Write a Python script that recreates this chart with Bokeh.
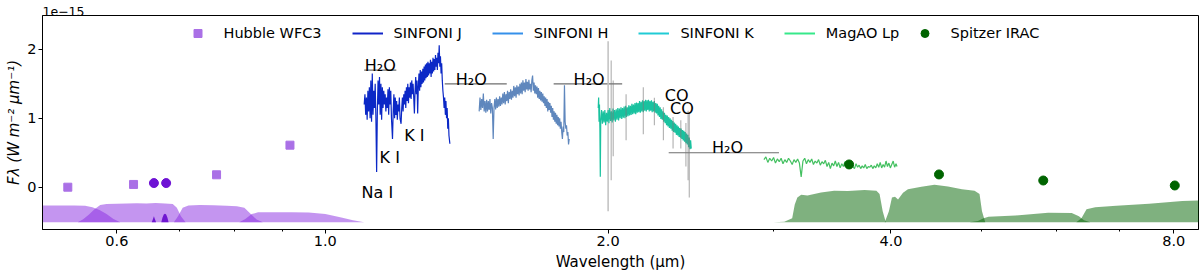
from bokeh.plotting import figure
from bokeh.models import Range1d, FixedTicker, PrintfTickFormatter, Legend, LegendItem
from bokeh.core.properties import value
from bokeh.embed import file_html
from bokeh.resources import INLINE

FONT = "DejaVu Sans"

# ---------------- photometry ----------------
hubble_w = [0.532, 0.625, 0.766, 0.917]
hubble_f = [0.00, 0.04, 0.18, 0.61]
hubble_nb_w = [0.657, 0.677]
hubble_nb_f = [0.06, 0.06]

spitzer_w = [3.61, 4.50, 5.81, 8.02]
spitzer_f = [0.33, 0.185, 0.097, 0.025]

# ---------------- filter curves (scaled, offset) ----------------
f555w_w = [0.440, 0.455, 0.480, 0.500, 0.520, 0.540, 0.555, 0.565, 0.575, 0.585, 0.595, 0.605]
f555w_t = [-0.51, -0.27, -0.265, -0.265, -0.265, -0.265, -0.27, -0.29, -0.33, -0.39, -0.46, -0.51]
f606w_w = [0.545, 0.552, 0.560, 0.568, 0.576, 0.585, 0.600, 0.615, 0.630, 0.645, 0.660, 0.675, 0.688, 0.695, 0.702, 0.710]
f606w_t = [-0.51, -0.47, -0.40, -0.32, -0.26, -0.245, -0.24, -0.235, -0.232, -0.235, -0.23, -0.235, -0.245, -0.30, -0.42, -0.51]
f775w_w = [0.690, 0.697, 0.705, 0.715, 0.735, 0.760, 0.785, 0.805, 0.820, 0.832, 0.845, 0.858]
f775w_t = [-0.51, -0.42, -0.30, -0.265, -0.26, -0.262, -0.268, -0.275, -0.30, -0.38, -0.47, -0.51]
f850lp_w = [0.810, 0.822, 0.835, 0.848, 0.880, 0.920, 0.960, 1.000, 1.040, 1.070, 1.100]
f850lp_t = [-0.51, -0.46, -0.39, -0.365, -0.362, -0.362, -0.368, -0.39, -0.44, -0.48, -0.51]
f656n_w = [0.6535, 0.6555, 0.6570, 0.6585, 0.6605]
f656n_t = [-0.51, -0.46, -0.42, -0.46, -0.51]
f673n_w = [0.669, 0.671, 0.673, 0.675, 0.677, 0.679, 0.681]
f673n_t = [-0.51, -0.44, -0.395, -0.385, -0.395, -0.44, -0.51]

irac1_w = [3.00, 3.08, 3.14, 3.16, 3.18, 3.21, 3.26, 3.37, 3.48, 3.60, 3.75, 3.86, 3.89, 3.92, 3.95]
irac1_t = [-0.51, -0.50, -0.45, -0.25, -0.15, -0.11, -0.12, -0.077, -0.05, -0.055, -0.04, -0.05, -0.10, -0.35, -0.51]
irac2_w = [3.94, 3.98, 4.01, 4.04, 4.07, 4.12, 4.17, 4.31, 4.45, 4.60, 4.76, 4.91, 4.97, 5.00, 5.04]
irac2_t = [-0.51, -0.35, -0.15, -0.14, -0.18, -0.08, -0.03, 0.005, 0.035, 0.01, -0.03, -0.05, -0.10, -0.35, -0.51]
irac3_w = [4.85, 4.95, 5.02, 5.08, 5.43, 5.88, 6.23, 6.34, 6.42, 6.52]
irac3_t = [-0.51, -0.49, -0.45, -0.43, -0.41, -0.37, -0.375, -0.42, -0.48, -0.51]
irac4_w = [6.30, 6.38, 6.46, 6.60, 6.95, 7.53, 8.17, 8.60, 9.00, 9.20]
irac4_t = [-0.51, -0.45, -0.32, -0.29, -0.27, -0.24, -0.20, -0.19, -0.20, -0.51]

# ---------------- spectra ----------------
sinf_j_w = [1.100, 1.102, 1.104, 1.106, 1.108, 1.110, 1.112, 1.114, 1.116, 1.118, 1.120, 1.122, 1.124, 1.126,
            1.128, 1.130, 1.132, 1.134, 1.136, 1.138, 1.140, 1.142, 1.144, 1.146, 1.148, 1.150, 1.152, 1.154,
            1.156, 1.158, 1.160, 1.162, 1.164, 1.166, 1.168, 1.170, 1.172, 1.174, 1.176, 1.179, 1.181, 1.183,
            1.185, 1.187, 1.189, 1.191, 1.193, 1.195, 1.197, 1.199, 1.201, 1.204, 1.206, 1.208, 1.210, 1.212,
            1.214, 1.216, 1.218, 1.220, 1.222, 1.224, 1.226, 1.228, 1.230, 1.232, 1.234, 1.236, 1.238, 1.240,
            1.242, 1.244, 1.246, 1.248, 1.250, 1.252, 1.254, 1.256, 1.258, 1.260, 1.262, 1.264, 1.266, 1.268,
            1.270, 1.272, 1.274, 1.276, 1.278, 1.280, 1.282, 1.284, 1.286, 1.288, 1.290, 1.292, 1.294, 1.296,
            1.298, 1.300, 1.302, 1.304, 1.306, 1.308, 1.310, 1.312, 1.314, 1.316, 1.318, 1.320, 1.322, 1.324,
            1.326, 1.328, 1.330, 1.332, 1.334, 1.336, 1.338, 1.340, 1.342, 1.344, 1.346, 1.348, 1.350, 1.352,
            1.354, 1.357]
sinf_j_f = [1.20, 1.35, 1.05, 1.30, 0.98, 1.40, 1.10, 1.45, 1.00, 1.55, 0.95, 1.65, 1.05, 1.40,
            1.15, 1.50, 1.00, 0.22, 1.10, 1.55, 1.20, 1.60, 1.05, 1.50, 0.98, 1.45, 1.15, 1.40,
            1.20, 1.35, 1.10, 1.30, 1.15, 1.42, 1.05, 1.45, 1.20, 1.40, 1.00, 0.70, 1.10, 1.35,
            1.00, 1.30, 1.05, 1.25, 0.98, 1.20, 1.10, 1.30, 1.00, 0.92, 1.15, 1.30, 1.10, 1.35,
            1.20, 1.40, 1.15, 1.45, 1.25, 1.50, 1.22, 1.45, 1.30, 1.52, 1.28, 1.55, 1.35, 1.50,
            1.30, 1.07, 1.40, 1.60, 1.35, 1.55, 1.07, 1.45, 1.65, 1.40, 1.70, 1.45, 1.68, 1.50,
            1.72, 1.52, 1.75, 1.55, 1.78, 1.58, 1.80, 1.60, 1.82, 1.62, 1.80, 1.65, 1.85, 1.60,
            1.82, 1.65, 1.88, 1.68, 1.86, 1.70, 1.92, 1.75, 1.88, 1.70, 1.95, 1.80, 2.06, 1.75,
            1.90, 1.65, 1.80, 1.55, 1.40, 1.30, 1.15, 1.30, 1.05, 1.25, 1.00, 1.15, 0.85, 1.00,
            0.75, 0.63]

sinf_h_w = [1.458, 1.461, 1.464, 1.467, 1.470, 1.473, 1.476, 1.479, 1.482, 1.485, 1.488, 1.491, 1.494, 1.497,
            1.500, 1.503, 1.506, 1.509, 1.512, 1.515, 1.518, 1.521, 1.524, 1.527, 1.530, 1.533, 1.536, 1.539,
            1.542, 1.545, 1.548, 1.551, 1.554, 1.557, 1.560, 1.563, 1.566, 1.569, 1.572, 1.575, 1.578, 1.581,
            1.584, 1.587, 1.590, 1.593, 1.596, 1.599, 1.602, 1.605, 1.608, 1.611, 1.614, 1.617, 1.620, 1.623,
            1.626, 1.629, 1.632, 1.635, 1.638, 1.641, 1.644, 1.647, 1.650, 1.653, 1.656, 1.659, 1.662, 1.665,
            1.668, 1.671, 1.674, 1.677, 1.680, 1.683, 1.686, 1.689, 1.692, 1.695, 1.698, 1.701, 1.704, 1.707,
            1.710, 1.713, 1.716, 1.719, 1.722, 1.725, 1.728, 1.731, 1.734, 1.737, 1.740, 1.743, 1.746, 1.749,
            1.752, 1.755, 1.758, 1.761, 1.764, 1.767, 1.770, 1.773, 1.776, 1.779, 1.782, 1.785, 1.788, 1.791,
            1.794, 1.797, 1.800, 1.803, 1.806, 1.809, 1.812, 1.815, 1.818]
sinf_h_f = [1.10, 1.30, 1.12, 1.28, 1.15, 1.36, 1.10, 1.25, 1.08, 1.27, 1.10, 1.25, 1.12, 1.28,
            1.07, 1.22, 1.15, 0.70, 1.15, 1.28, 1.13, 1.30, 1.15, 1.28, 1.17, 1.32, 1.18, 1.30,
            1.20, 1.36, 1.22, 1.38, 1.20, 1.35, 1.25, 1.40, 1.22, 1.38, 1.28, 1.42, 1.27, 1.40,
            1.30, 1.47, 1.32, 1.45, 1.30, 1.48, 1.35, 1.46, 1.33, 1.50, 1.36, 1.52, 1.35, 1.55,
            1.40, 1.52, 1.38, 1.57, 1.42, 1.53, 1.40, 1.56, 1.42, 1.50, 1.38, 1.55, 1.62, 1.40,
            1.52, 1.36, 1.48, 1.35, 1.46, 1.30, 1.44, 1.28, 1.40, 1.26, 1.38, 1.24, 1.36, 1.22,
            1.32, 1.18, 1.30, 1.15, 1.28, 1.10, 1.24, 1.12, 1.22, 1.08, 1.18, 1.02, 1.15, 0.98,
            1.10, 0.95, 1.08, 0.92, 1.05, 0.90, 1.02, 0.88, 1.00, 0.85, 0.95, 0.80, 0.70, 0.88,
            0.80, 1.48, 0.95, 0.85, 0.90, 0.75, 0.80, 0.62, 0.70]

sinf_k_w = [1.952, 1.954, 1.956, 1.958, 1.960, 1.962, 1.964, 1.968, 1.972, 1.976, 1.980, 1.984, 1.988, 1.992,
            1.996, 2.000, 2.004, 2.008, 2.012, 2.016, 2.020, 2.024, 2.028, 2.032, 2.036, 2.040, 2.044, 2.048,
            2.052, 2.056, 2.060, 2.064, 2.068, 2.072, 2.076, 2.080, 2.084, 2.088, 2.092, 2.096, 2.100, 2.104,
            2.108, 2.112, 2.116, 2.120, 2.124, 2.128, 2.132, 2.136, 2.140, 2.144, 2.148, 2.152, 2.156, 2.160,
            2.164, 2.168, 2.172, 2.176, 2.180, 2.184, 2.188, 2.192, 2.196, 2.200, 2.204, 2.208, 2.212, 2.216,
            2.220, 2.224, 2.228, 2.232, 2.236, 2.240, 2.244, 2.248, 2.252, 2.256, 2.260, 2.264, 2.268, 2.272,
            2.276, 2.280, 2.284, 2.288, 2.292, 2.296, 2.300, 2.304, 2.308, 2.312, 2.316, 2.320, 2.324, 2.328,
            2.332, 2.336, 2.340, 2.344, 2.348, 2.352, 2.356, 2.360, 2.364, 2.368, 2.372, 2.376, 2.380, 2.384,
            2.388, 2.392, 2.396, 2.400, 2.404, 2.408, 2.412, 2.416, 2.420, 2.424, 2.428, 2.432, 2.436, 2.440,
            2.444, 2.448, 2.452]
sinf_k_f = [1.15, 1.30, 0.95, 1.20, 0.85, 0.15, 0.95, 1.12, 0.92, 1.10, 0.94, 1.12, 0.90, 1.08,
            0.95, 1.12, 0.93, 1.15, 0.96, 1.10, 0.94, 1.14, 0.97, 1.12, 0.95, 1.13, 0.98, 1.15,
            0.97, 1.14, 1.00, 1.16, 0.99, 1.15, 1.01, 1.17, 1.00, 1.18, 1.02, 1.16, 1.03, 1.19,
            1.04, 1.18, 1.05, 1.21, 1.06, 1.20, 1.07, 1.22, 1.06, 1.23, 1.08, 1.22, 1.09, 1.25,
            1.08, 1.24, 1.10, 1.26, 1.09, 1.25, 1.11, 1.27, 1.10, 1.26, 1.12, 1.27, 1.10, 1.25,
            1.11, 1.26, 1.09, 1.24, 1.10, 1.25, 1.08, 1.22, 1.07, 1.21, 1.04, 1.18, 1.02, 1.16,
            0.99, 1.13, 0.98, 1.10, 0.95, 1.08, 0.93, 1.05, 0.90, 1.04, 0.88, 1.02, 0.86, 1.00,
            0.85, 0.98, 0.82, 0.96, 0.80, 0.94, 0.79, 0.92, 0.76, 0.90, 0.75, 0.88, 0.73, 0.86,
            0.72, 0.85, 0.70, 0.83, 0.68, 0.82, 0.66, 0.80, 0.64, 0.78, 0.62, 0.76, 0.58, 0.72,
            0.55, 0.68, 0.56]

# grey noise/error spikes on the K band
k_err_w = [2.015, 2.025, 2.09, 2.18, 2.24, 2.29, 2.345, 2.39, 2.42, 2.433, 2.44]
k_err_lo = [0.10, 0.45, 0.68, 0.77, 0.90, 0.68, 0.56, 0.56, 0.30, 0.10, -0.15]
k_err_hi = [1.84, 1.55, 1.35, 1.45, 1.30, 1.16, 1.02, 0.97, 0.93, 1.11, 1.07]
k_bad_w = [2.0]
k_bad_lo = [-0.35]
k_bad_hi = [2.12]

magao_w = [2.930, 2.944, 2.958, 2.972, 2.986, 3.000, 3.014, 3.028, 3.042, 3.056, 3.070, 3.084, 3.098, 3.112,
           3.126, 3.140, 3.154, 3.168, 3.182, 3.196, 3.210, 3.224, 3.238, 3.252, 3.266, 3.280, 3.294, 3.308,
           3.322, 3.336, 3.350, 3.364, 3.378, 3.392, 3.406, 3.420, 3.434, 3.448, 3.462, 3.476, 3.490, 3.504,
           3.518, 3.532, 3.546, 3.560, 3.574, 3.588, 3.602, 3.616, 3.630, 3.644, 3.658, 3.672, 3.686, 3.700,
           3.714, 3.728, 3.742, 3.756, 3.770, 3.784, 3.798, 3.812, 3.826, 3.840, 3.854, 3.868, 3.882, 3.896,
           3.910, 3.924, 3.938, 3.952, 3.966, 3.980, 3.994, 4.008, 4.022, 4.036, 4.050, 4.060]
magao_f = [0.40, 0.44, 0.36, 0.42, 0.38, 0.43, 0.35, 0.41, 0.37, 0.42, 0.34, 0.40, 0.36, 0.42,
           0.38, 0.33, 0.40, 0.36, 0.41, 0.35, 0.15, 0.38, 0.42, 0.34, 0.40, 0.36, 0.41, 0.33,
           0.38, 0.35, 0.40, 0.32, 0.37, 0.34, 0.39, 0.30, 0.36, 0.27, 0.35, 0.31, 0.38, 0.30,
           0.36, 0.28, 0.34, 0.30, 0.37, 0.29, 0.33, 0.28, 0.35, 0.30, 0.27, 0.34, 0.29, 0.32,
           0.27, 0.31, 0.28, 0.33, 0.27, 0.30, 0.29, 0.32, 0.27, 0.31, 0.28, 0.34, 0.29, 0.36,
           0.28, 0.33, 0.29, 0.38, 0.30, 0.35, 0.28, 0.33, 0.38, 0.29, 0.34, 0.30]

# ---------------- annotations ----------------
band_x0 = [1.10, 1.34, 1.75, 2.32]
band_x1 = [1.19, 1.56, 2.07, 3.04]
band_y = [1.70, 1.50, 1.50, 0.50]
band_text = ["H₂O", "H₂O", "H₂O", "H₂O"]
band_text_x = [1.144, 1.43, 1.909, 2.68]
band_text_y = [1.77, 1.57, 1.57, 0.57]

line_text = ["Na I", "K I", "K I", "CO", "CO"]
line_text_x = [1.136, 1.171, 1.244, 2.366, 2.396]
line_text_y = [-0.07, 0.427, 0.75, 1.33, 1.14]

x_ticks = [0.6, 1.0, 2.0, 4.0, 8.0]
x_minor_ticks = [0.7, 0.8, 0.9, 3.0, 5.0, 6.0, 7.0]
y_ticks = [0, 1, 2]

# ---------------- figure ----------------
p = figure(width=1200, height=273, x_axis_type="log",
           x_range=Range1d(0.5, 8.5), y_range=Range1d(-0.614, 2.492),
           output_backend="svg", toolbar_location=None,
           min_border_left=42, min_border_right=2, min_border_top=15, min_border_bottom=44,
           title="1e−15")
p.title.align = "left"
p.title.text_font = FONT
p.title.text_font_size = "12.5px"
p.title.text_font_style = "normal"
p.title.text_color = "black"
p.title.standoff = 0
p.title.vertical_align = "bottom"
p.xgrid.visible = False
p.ygrid.visible = False
p.outline_line_color = "black"
p.outline_line_width = 1
p.background_fill_color = "white"

# filters
p.patches([f555w_w, f606w_w, f775w_w, f850lp_w], [f555w_t, f606w_t, f775w_t, f850lp_t],
          fill_color="blueviolet", fill_alpha=0.5, line_alpha=0)
p.patches([f656n_w, f673n_w], [f656n_t, f673n_t], fill_color="#6a10cf", fill_alpha=0.95, line_alpha=0)
p.patches([irac1_w, irac2_w, irac3_w, irac4_w], [irac1_t, irac2_t, irac3_t, irac4_t],
          fill_color="darkgreen", fill_alpha=0.5, line_alpha=0)

# band markers
p.segment(band_x0, band_y, band_x1, band_y, line_color="#6e6e6e", line_width=1.2)
p.segment(k_bad_w, k_bad_lo, k_bad_w, k_bad_hi, line_color="#c4c4c4", line_width=1.6)

# spectra
p.line(sinf_j_w, sinf_j_f, line_color="#0b28c6", line_width=1.2)
p.line(sinf_h_w, sinf_h_f, line_color="#5f87bd", line_width=1.2)
p.line(sinf_k_w, sinf_k_f, line_color="#19c29f", line_width=1.2)
p.segment(k_err_w, k_err_lo, k_err_w, k_err_hi, line_color="#7a7a7a", line_width=1.1, line_alpha=0.6)
p.line(magao_w, magao_f, line_color="#43c060", line_width=1.2)

# photometry
r_hst = p.scatter(hubble_w, hubble_f, marker="square", size=8, fill_color="#aa70e6", line_color="#aa70e6")
p.scatter(hubble_nb_w, hubble_nb_f, marker="circle", size=9, fill_color="#6e12d4", line_color="#6e12d4")
r_spz = p.scatter(spitzer_w, spitzer_f, marker="circle", size=9, fill_color="#006400", line_color="#006400")

# annotation texts
p.text(band_text_x, band_text_y, text=band_text, text_font=value(FONT), text_font_size="16px",
       text_align="center", text_baseline="alphabetic", text_color="black")
p.text(line_text_x, line_text_y, text=line_text, text_font=value(FONT), text_font_size="16px",
       text_align="center", text_baseline="alphabetic", text_color="black")

# legend proxies: single-point lines draw nothing on the plot, only in the legend
lg_j = p.line(sinf_j_w[:1], sinf_j_f[:1], line_color="#1024c8", line_width=2)
lg_h = p.line(sinf_h_w[:1], sinf_h_f[:1], line_color="#3590ea", line_width=2)
lg_k = p.line(sinf_k_w[:1], sinf_k_f[:1], line_color="#20cbd5", line_width=2)
lg_m = p.line(magao_w[:1], magao_f[:1], line_color="#36e88a", line_width=2)

leg_style = dict(orientation="horizontal", glyph_width=31, glyph_height=20, label_standoff=11,
                 spacing=30, padding=0, margin=0, border_line_alpha=0, background_fill_alpha=0,
                 label_text_font=FONT, label_text_font_size="14.5px", label_text_color="black",
                 label_height=20)
legend1 = Legend(items=[LegendItem(label="Hubble WFC3", renderers=[r_hst], index=0),
                        LegendItem(label="SINFONI J", renderers=[lg_j]),
                        LegendItem(label="SINFONI H", renderers=[lg_h]),
                        LegendItem(label="SINFONI K", renderers=[lg_k]),
                        LegendItem(label="MagAO Lp", renderers=[lg_m])],
                 location=(139.5, 186), **leg_style)
legend2 = Legend(items=[LegendItem(label="Spitzer IRAC", renderers=[r_spz], index=0)],
                 location=(866.5, 186), **leg_style)
p.add_layout(legend1)
p.add_layout(legend2)

# axes
p.xaxis.ticker = FixedTicker(ticks=x_ticks, minor_ticks=x_minor_ticks)
p.xaxis.formatter = PrintfTickFormatter(format="%.1f")
p.yaxis.ticker = FixedTicker(ticks=y_ticks, minor_ticks=[])
for ax in (p.xaxis[0], p.yaxis[0]):
    ax.axis_line_color = "black"
    ax.major_tick_line_color = "black"
    ax.minor_tick_line_color = "black"
    ax.major_tick_out = 4
    ax.major_tick_in = 0
    ax.minor_tick_out = 2
    ax.minor_tick_in = 0
    ax.major_label_text_font = FONT
    ax.major_label_text_font_size = "14.5px"
    ax.major_label_text_color = "black"
    ax.axis_label_text_font = FONT
    ax.axis_label_text_color = "black"
    ax.major_label_standoff = 2
    ax.axis_label_standoff = 1

p.xaxis.axis_label = "Wavelength (μm)"
p.xaxis.axis_label_text_font_size = "15px"
p.xaxis.axis_label_text_font_style = "normal"
p.xaxis.axis_label_standoff = 4
p.yaxis.axis_label = "Fλ (W m⁻² μm⁻¹)"
p.yaxis.axis_label_text_font_size = "15px"
p.yaxis.axis_label_text_font_style = "italic"

open("out.html", "w").write(file_html(p, INLINE))
